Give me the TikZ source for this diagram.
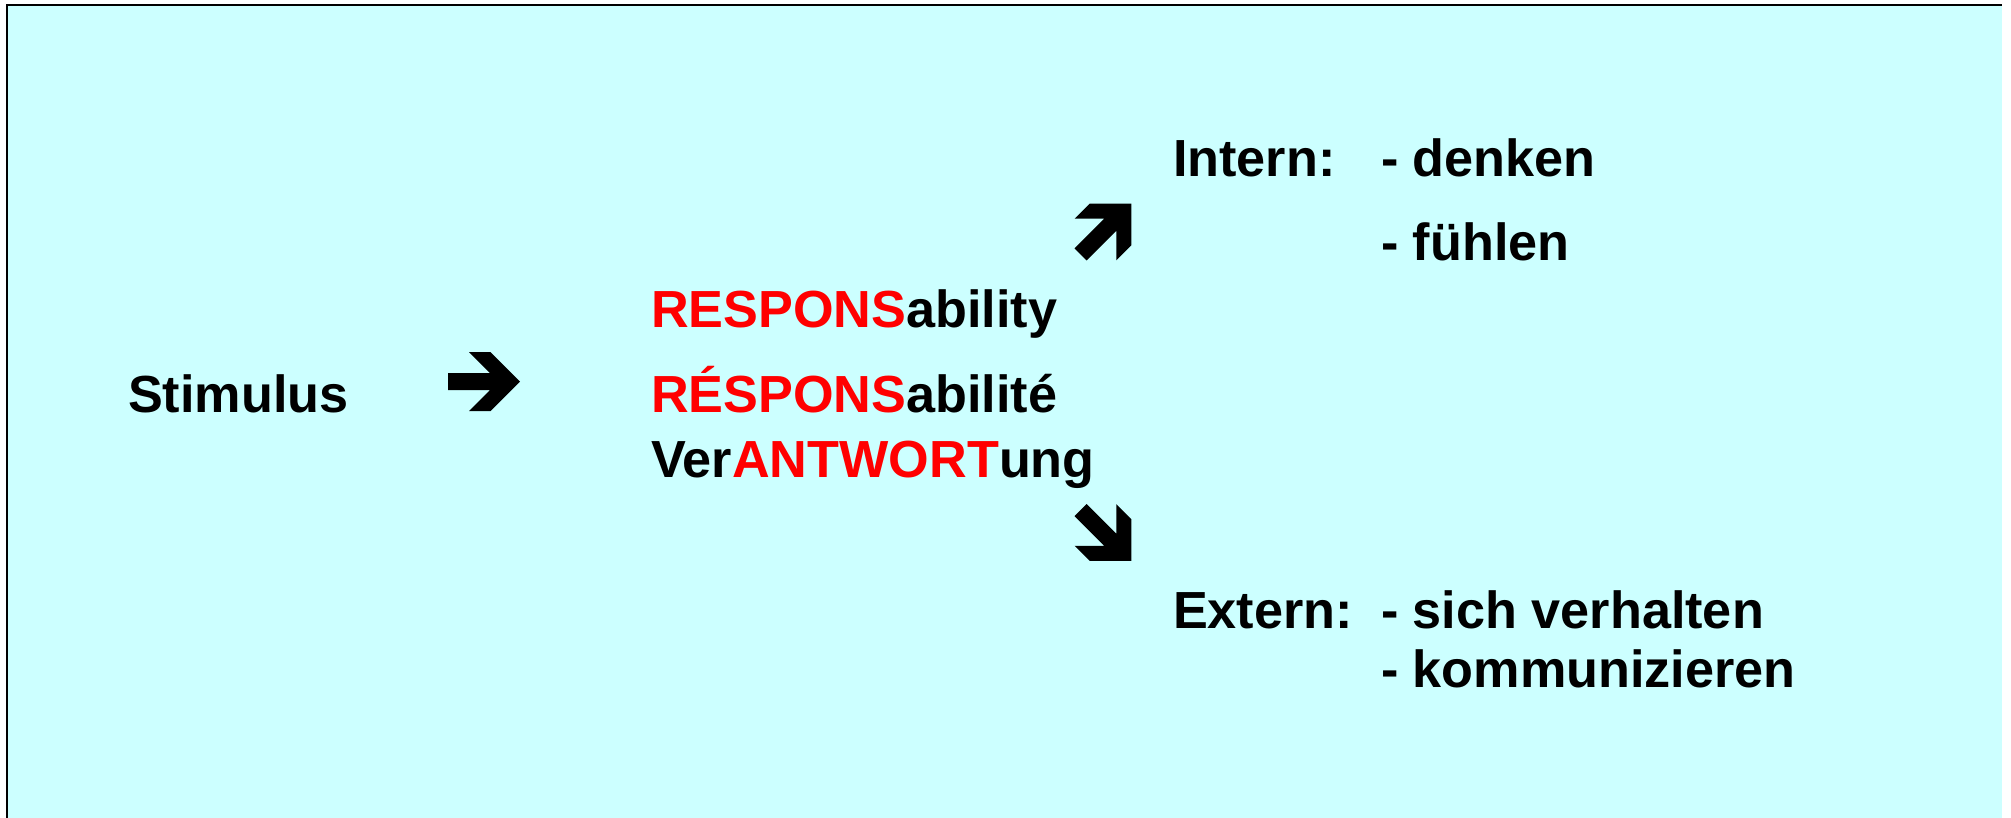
\documentclass[tikz,border=0pt]{standalone}
\usepackage{fontspec}
\setmainfont{Liberation Sans}
\definecolor{slidecyan}{HTML}{CCFFFF}
\definecolor{keyred}{HTML}{FF0000}
\tikzset{
  word/.style={anchor=base west, inner sep=0pt, outer sep=0pt,
    font=\fontsize{26.1pt}{30pt}\selectfont\bfseries},
  pics/blockarrow/.style={code={
    \fill[black] (36,0) -- (6.5,-29.5) -- (-15,-29.5) -- (6,-8.5) -- (-36,-8.5)
      -- (-36,8.5) -- (6,8.5) -- (-15,29.5) -- (6.5,29.5) -- cycle;
  }}
}
\begin{document}
\begin{tikzpicture}[x=0.5pt, y=-0.5pt]
        \useasboundingbox (0,0) rectangle (2011,818);

        % Draw the background of the slide
        \fill[slidecyan] (6,4) rectangle (2002,818);
        \draw[line width=1pt] (7,818) -- (7,5) -- (2002,5);

        % Draw the stimulus
        \node[word] (stimulus) at (128,412) {Stimulus};
        \pic at (484,381.7) {blockarrow};

        % Draw the three words for response
        \node[word] (en) at (651,327) {\textcolor{keyred}{RESPONS}ability};
        \node[word] (fr) at (651,412) {\textcolor{keyred}{RÉSPONS}abilité};
        \node[word] (de) at (651,477) {Ver\textcolor{keyred}{ANTWORT}ung};

        % Draw the internal answer
        \pic[rotate=45] at (1106,229) {blockarrow};
        \node[word] (intern) at (1173,177) {Intern:};
        \node[word] (denken) at (1381,177) {- denken};
        \node[word] (fuehlen) at (1381,260) {- fühlen};

        % Draw the external answer
        \pic[rotate=-45] at (1106,535.5) {blockarrow};
        \node[word] (extern) at (1173,628) {Extern:};
        \node[word] (verhalten) at (1381,628) {- sich verhalten};
        \node[word] (kommunizieren) at (1381,687) {- kommunizieren};

\end{tikzpicture}
\end{document}
